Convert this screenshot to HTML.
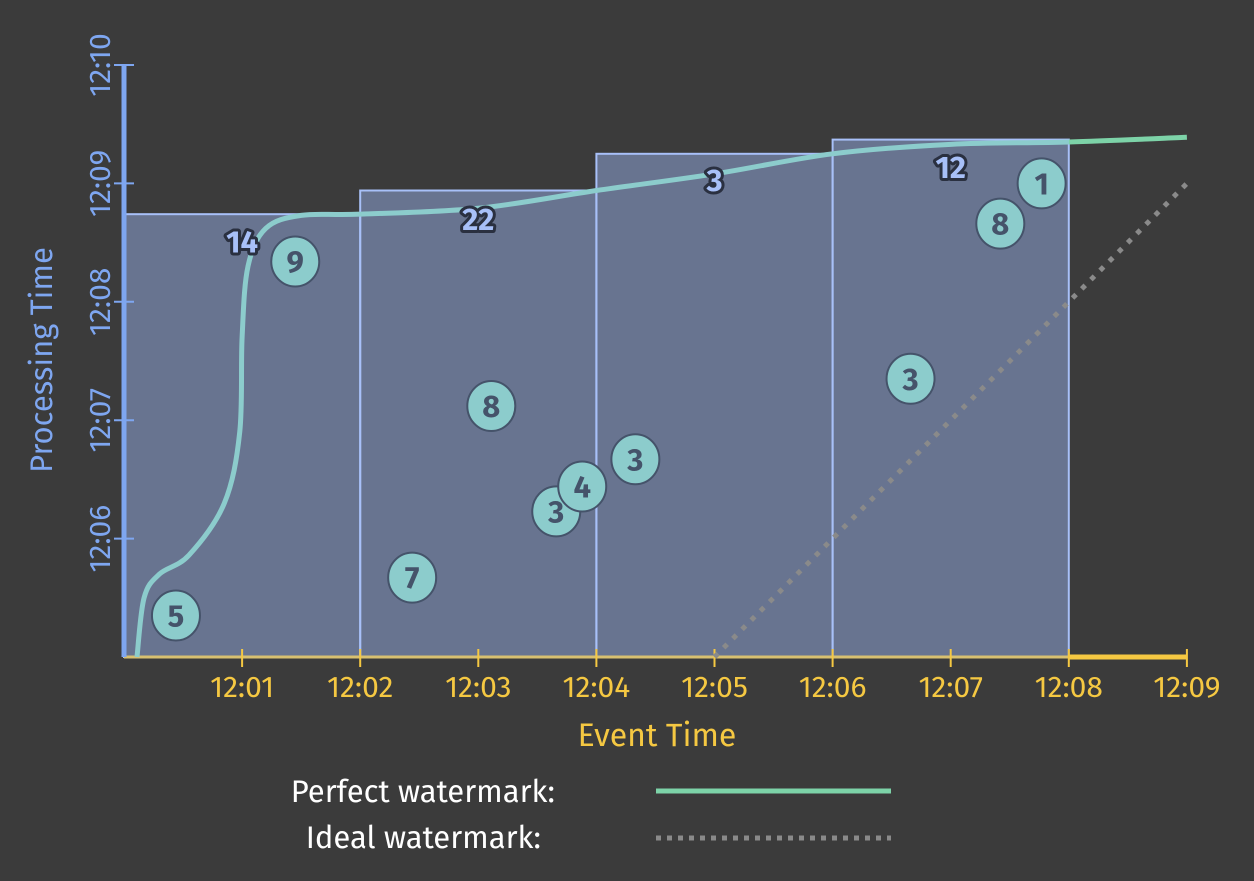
<!DOCTYPE html>
<html><head><meta charset="utf-8"><style>
html,body{margin:0;padding:0;background:#3b3b3b;}
svg{display:block;font-family:"Fira Sans","Liberation Sans",sans-serif;}
</style></head><body>
<svg id="chart" width="1254" height="881" viewBox="0 0 1254 881" xmlns="http://www.w3.org/2000/svg">
<rect width="1254" height="881" fill="#3b3b3b"/>
<defs>
<clipPath id="inWin"><rect x="0" y="0" width="1069" height="881"/></clipPath>
<clipPath id="outWin"><rect x="1069" y="0" width="200" height="881"/></clipPath>
</defs>
<g id="windows"></g>
<g id="axes"></g>
<g id="lines"></g>
<g id="dots"></g>
<g id="legend">
<text x="555" y="802" text-anchor="end" font-size="31" fill="#ffffff">Perfect watermark:</text>
<line x1="656" y1="791" x2="891" y2="791" stroke="#7dd3a8" stroke-width="5"/>
<text x="541" y="848" text-anchor="end" font-size="31" fill="#ffffff">Ideal watermark:</text>
<line x1="656" y1="838" x2="891" y2="838" stroke="#8a8a8a" stroke-width="5" stroke-dasharray="5 6"/>
</g>
</svg>
<script>
const xTicks = [1,2,3,4,5,6,7,8,9];
const xTickLabels = ["12:01","12:02","12:03","12:04","12:05","12:06","12:07","12:08","12:09"];
const yTicks = [6,7,8,9,10];
const yTickLabels = ["12:06","12:07","12:08","12:09","12:10"];
const windowStarts = [0,2,4,6];
const windowEnds = [2,4,6,8];
const windowTops = [8.74,8.94,9.25,9.37];
const windowCounts = ["14","22","3","12"];
const windowLabelX = [1.0,3.0,5.0,7.0];
const windowLabelY = [8.51,8.70,9.03,9.14];
const dotX = [0.44,1.45,2.44,3.11,3.66,3.88,4.33,6.66,7.42,7.77];
const dotY = [5.35,8.34,5.67,7.12,6.23,6.44,6.67,7.35,8.66,9.00];
const dotLabels = ["5","9","7","8","3","4","3","3","8","1"];
const perfectX = [0.11,0.17,0.3,0.55,0.85,0.98,1.0,1.05,1.2,1.5,2.0,3.0,4.0,5.0,6.0,7.0,8.0,9.0];
const perfectY = [5.0,5.5,5.7,5.86,6.3,6.9,7.7,8.3,8.62,8.73,8.74,8.79,8.94,9.08,9.25,9.33,9.35,9.39];
const idealX = [5.0,9.0];
const idealY = [5.0,9.0];

const X0=124, PXX=118.1, Y0=657, PXY=118.4, YMIN=5;
const sx = v => X0 + v*PXX;
const sy = v => Y0 - (v-YMIN)*PXY;
const NS="http://www.w3.org/2000/svg";
function mk(tag, attrs, parent){const e=document.createElementNS(NS,tag);for(const k in attrs)e.setAttribute(k,attrs[k]);parent.appendChild(e);return e;}

const gW=document.getElementById('windows');
windowStarts.forEach((s,i)=>{
  const r=mk('rect',{x:sx(s),y:sy(windowTops[i]),width:sx(windowEnds[i])-sx(s),height:Y0-sy(windowTops[i]),fill:'rgba(155,180,240,0.47)',stroke:'#a8c0f8','stroke-width':2},gW);
  
  
});

const gA=document.getElementById('axes');
let l=mk('line',{x1:X0,y1:Y0,x2:sx(8),y2:Y0,stroke:'#d8c070','stroke-width':3},gA);


l=mk('line',{x1:sx(8),y1:Y0,x2:sx(9),y2:Y0,stroke:'#f5c842','stroke-width':5},gA);


xTicks.forEach((t,i)=>{
  const tk=mk('line',{x1:sx(t),y1:Y0-8,x2:sx(t),y2:Y0+10,stroke:'#f5c842','stroke-width':2},gA);
  
  
  const tx=mk('text',{x:sx(t),y:Y0+40,'text-anchor':'middle','font-size':30,fill:'#f5c842'},gA);
  tx.textContent=xTickLabels[i];
  
  
});
l=mk('line',{x1:X0,y1:sy(10),x2:X0,y2:Y0,stroke:'#7ea6f0','stroke-width':5},gA);


yTicks.forEach((t,i)=>{
  const tk=mk('line',{x1:X0-10,y1:sy(t),x2:X0+10,y2:sy(t),stroke:'#7ea6f0','stroke-width':2},gA);
  
  
  const tx=mk('text',{x:0,y:0,'text-anchor':'middle','font-size':30,fill:'#7ea6f0',transform:`translate(${X0-14},${sy(t)}) rotate(-90)`},gA);
  tx.textContent=yTickLabels[i];
  
  
});
let t=mk('text',{x:657,y:746,'text-anchor':'middle','font-size':32,fill:'#f5c842'},gA);
t.textContent='Event Time';


t=mk('text',{x:0,y:0,'text-anchor':'middle','font-size':31,fill:'#7ea6f0',transform:'translate(52,360) rotate(-90)'},gA);
t.textContent='Processing Time';



const gL=document.getElementById('lines');
const ip=mk('line',{x1:sx(idealX[0]),y1:sy(idealY[0]),x2:sx(idealX[1]),y2:sy(idealY[1]),stroke:'#8a8a8a','stroke-width':5,'stroke-dasharray':'5 8'},gL);


const P=perfectX.map((x,i)=>[sx(x),sy(perfectY[i])]);
let d='M'+P[0][0]+','+P[0][1];
for(let i=0;i<P.length-1;i++){
  const p0=P[Math.max(0,i-1)],p1=P[i],p2=P[i+1],p3=P[Math.min(P.length-1,i+2)];
  const c1=[p1[0]+(p2[0]-p0[0])/6,p1[1]+(p2[1]-p0[1])/6];
  const c2=[p2[0]-(p3[0]-p1[0])/6,p2[1]-(p3[1]-p1[1])/6];
  d+=` C${c1[0]},${c1[1]} ${c2[0]},${c2[1]} ${p2[0]},${p2[1]}`;
}
let pw=mk('path',{d:d,fill:'none',stroke:'#8ccccc','stroke-width':5,'clip-path':'url(#inWin)'},gL);


pw=mk('path',{d:d,fill:'none',stroke:'#7dd3a8','stroke-width':5,'clip-path':'url(#outWin)'},gL);



const gD=document.getElementById('dots');
windowCounts.forEach((c,i)=>{
  const tx=mk('text',{x:sx(windowLabelX[i]),y:sy(windowLabelY[i])+11,'text-anchor':'middle','font-size':31,'font-weight':'bold',fill:'#a8c0f8',stroke:'#2a3040','stroke-width':6,'paint-order':'stroke','stroke-linejoin':'round'},gD);
  tx.textContent=c;
  
  
});
dotX.forEach((x,i)=>{
  const g=mk('g',{},gD);
  
  
  mk('ellipse',{cx:sx(x),cy:sy(dotY[i]),rx:24,ry:25,fill:'#8ccccc',stroke:'#45536a','stroke-width':2},g);
  const tx=mk('text',{x:sx(x),y:sy(dotY[i])+11,'text-anchor':'middle','font-size':31,'font-weight':'bold',fill:'#45536a'},g);
  tx.textContent=dotLabels[i];
});
</script>
</body></html>
